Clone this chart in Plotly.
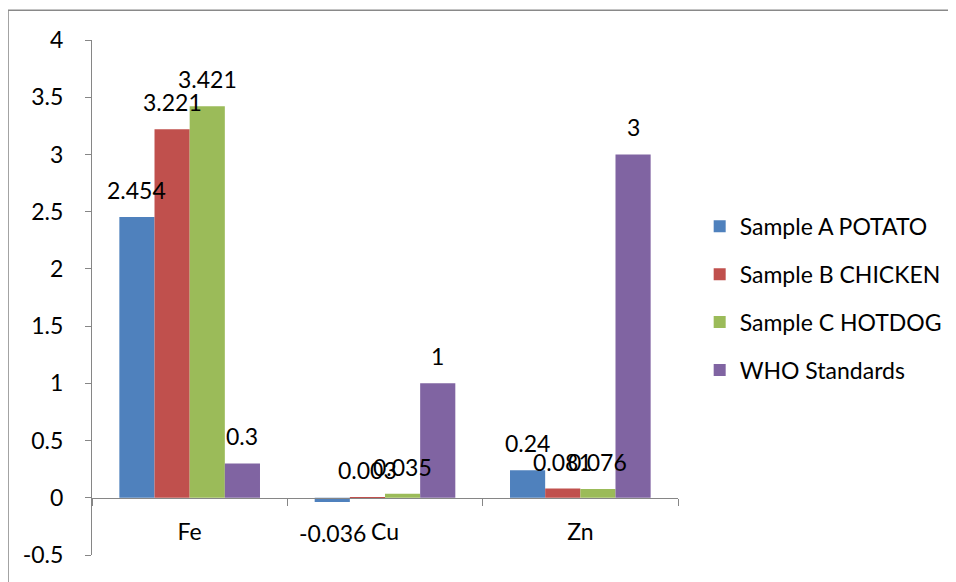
import plotly.graph_objects as go

categories = ["Fe", "Cu", "Zn"]
series_names = ["Sample A POTATO", "Sample B CHICKEN", "Sample C HOTDOG", "WHO Standards"]
potato = [2.454, -0.036, 0.24]
chicken = [3.221, 0.003, 0.081]
hotdog = [3.421, 0.035, 0.076]
who = [0.3, 1, 3]
colors = ["#4F81BD", "#C0504D", "#9BBB59", "#8064A2"]
y_tick_vals = [-0.5, 0, 0.5, 1, 1.5, 2, 2.5, 3, 3.5, 4]
y_tick_text = ["-0.5", "0", "0.5", "1", "1.5", "2", "2.5", "3", "3.5", "4"]

FONT = "Lato, 'Open Sans', sans-serif"
FS = 23
AXIS = "#868686"
BARGAP = 0.28

fig = go.Figure()
all_series = [potato, chicken, hotdog, who]
w = (1 - BARGAP) / len(all_series)
for i, (name, vals, col) in enumerate(zip(series_names, all_series, colors)):
    fig.add_trace(go.Bar(
        x=categories, y=vals, name=name, marker_color=col,
        marker_line_width=0, legendgroup=name,
    ))
    for j, v in enumerate(vals):
        fig.add_annotation(
            x=j + (i - (len(all_series) - 1) / 2) * w, y=v,
            text=f"{v:g}", showarrow=False,
            yshift=27 if v >= 0 else -31,
            font=dict(family=FONT, size=FS, color="#000000"),
        )

fig.update_layout(
    width=956, height=582,
    margin=dict(l=84, r=286, t=32, b=35),
    paper_bgcolor="white", plot_bgcolor="white",
    bargap=BARGAP, bargroupgap=0,
    font=dict(family=FONT, size=FS, color="#000000"),
    showlegend=True,
    legend=dict(
        x=1.037, y=0.68, xanchor="left", yanchor="top",
        font=dict(family=FONT, size=FS, color="#000000"),
        tracegroupgap=15, itemclick=False,
    ),
    xaxis=dict(
        type="category", range=[-0.5, 2.5],
        anchor="free", position=1 / 9,
        showline=True, linecolor=AXIS, linewidth=1,
        ticks="outside", tickson="boundaries", ticklen=7, tickcolor=AXIS,
        showgrid=False, zeroline=False,
        ticklabelstandoff=14,
        tickfont=dict(family=FONT, size=FS, color="#000000"),
    ),
    yaxis=dict(
        range=[-0.5, 4], tickvals=y_tick_vals, ticktext=y_tick_text,
        showline=True, linecolor=AXIS, linewidth=1,
        ticks="outside", ticklen=6, tickcolor=AXIS,
        showgrid=False, zeroline=False,
        ticklabelstandoff=17,
        tickfont=dict(family=FONT, size=FS, color="#000000"),
    ),
    shapes=[dict(
        type="rect", xref="paper", yref="paper",
        x0=-0.1433, x1=1.6, y0=-0.3, y1=1.058,
        line=dict(color="#898989", width=1.5), fillcolor="rgba(0,0,0,0)",
        layer="below",
    )],
)

fig.write_html("out.html")
